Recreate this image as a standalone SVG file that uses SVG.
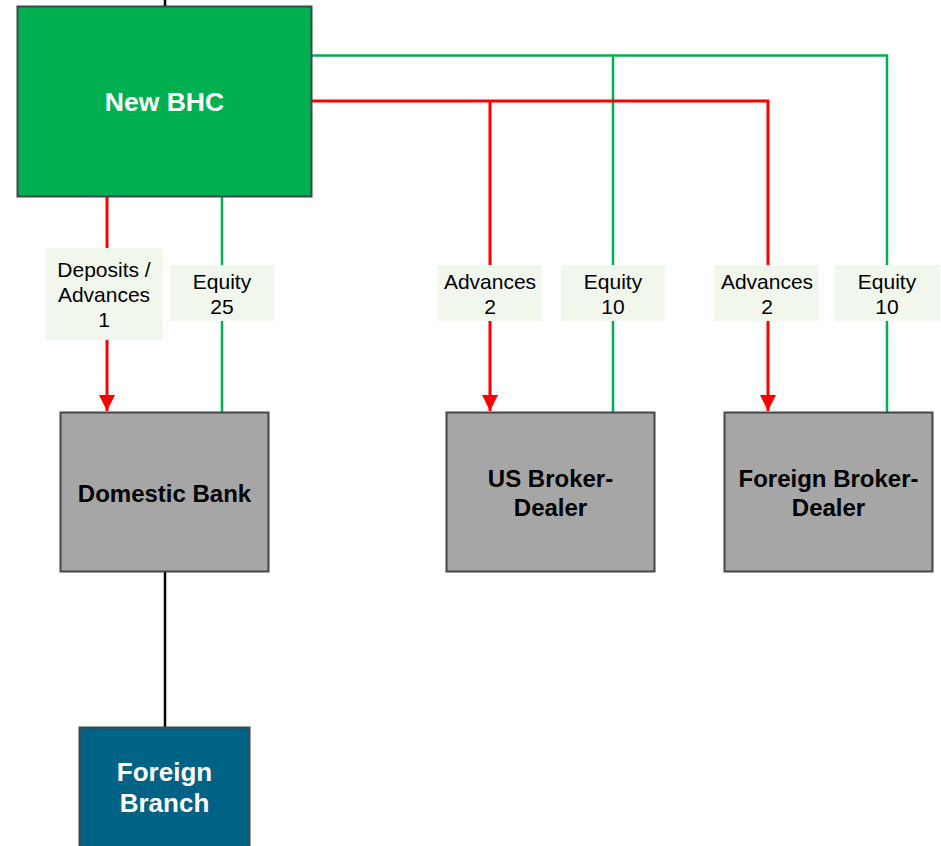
<svg xmlns="http://www.w3.org/2000/svg" width="941" height="846" viewBox="0 0 941 846">
<defs>
<style>
.box{stroke:#41464B;stroke-width:2}
.nt{font-family:"Liberation Sans",Arial,sans-serif;font-weight:bold;text-anchor:middle}
.lbl{fill:#F2F7EE}
.lt{font-family:"Liberation Sans",Arial,sans-serif;font-size:21px;fill:#000;text-anchor:middle}
.red{stroke:#FF0000;stroke-width:3;fill:none}
.grn{stroke:#00B050;stroke-width:2.5;fill:none}
.blk{stroke:#000;stroke-width:2.5;fill:none}
</style>
<marker id="ah" markerUnits="userSpaceOnUse" markerWidth="16" markerHeight="16" viewBox="0 0 16 16" refX="16" refY="8" orient="auto">
<path d="M0,0 L16,8 L0,16 Z" fill="#FF0000"/>
</marker>
</defs>
<rect width="941" height="846" fill="#FFFFFF"/>
<g id="connectors">
<line class="blk" x1="165" y1="0" x2="165" y2="7"/>
<line class="blk" x1="165" y1="572" x2="165" y2="727"/>
<polyline class="grn" points="312,55.5 887,55.5 887,412"/>
<line class="grn" x1="613" y1="55.5" x2="613" y2="412"/>
<line class="grn" x1="222" y1="197" x2="222" y2="412"/>
<polyline class="red" points="312,101 768,101 768,411" marker-end="url(#ah)"/>
<line class="red" x1="490" y1="101" x2="490" y2="411" marker-end="url(#ah)"/>
<line class="red" x1="107" y1="197" x2="107" y2="411" marker-end="url(#ah)"/>
</g>
<g id="labels">
<g id="lbl-deposits">
<rect class="lbl" x="45" y="248" width="118" height="92"/>
<text class="lt" x="104" y="277">Deposits /</text>
<text class="lt" x="104" y="302">Advances</text>
<text class="lt" x="104" y="327">1</text>
</g>
<g id="lbl-equity25">
<rect class="lbl" x="170" y="265" width="104" height="56"/>
<text class="lt" x="222" y="289">Equity</text>
<text class="lt" x="222" y="314">25</text>
</g>
<g id="lbl-adv-us">
<rect class="lbl" x="437" y="265" width="105" height="56"/>
<text class="lt" x="490" y="289">Advances</text>
<text class="lt" x="490" y="314">2</text>
</g>
<g id="lbl-eq-us">
<rect class="lbl" x="561" y="265" width="104" height="56"/>
<text class="lt" x="613" y="289">Equity</text>
<text class="lt" x="613" y="314">10</text>
</g>
<g id="lbl-adv-foreign">
<rect class="lbl" x="714" y="265" width="105" height="56"/>
<text class="lt" x="767" y="289">Advances</text>
<text class="lt" x="767" y="314">2</text>
</g>
<g id="lbl-eq-foreign">
<rect class="lbl" x="835" y="265" width="105" height="56"/>
<text class="lt" x="887" y="289">Equity</text>
<text class="lt" x="887" y="314">10</text>
</g>
</g>
<g id="new-bhc">
<rect class="box" x="17.5" y="6.5" width="294" height="190" fill="#00B050"/>
<text class="nt" x="164.5" y="111" font-size="26.5" fill="#FFFFFF">New BHC</text>
</g>
<g id="domestic-bank">
<rect class="box" x="60.5" y="412.5" width="208" height="159" fill="#A6A6A6"/>
<text class="nt" x="164.5" y="502" font-size="24" fill="#000">Domestic Bank</text>
</g>
<g id="us-broker-dealer">
<rect class="box" x="446.5" y="412.5" width="208" height="159" fill="#A6A6A6"/>
<text class="nt" x="550.5" y="487" font-size="24" fill="#000">US Broker-</text>
<text class="nt" x="550.5" y="516" font-size="24" fill="#000">Dealer</text>
</g>
<g id="foreign-broker-dealer">
<rect class="box" x="724.5" y="412.5" width="208" height="159" fill="#A6A6A6"/>
<text class="nt" x="828.5" y="487" font-size="24" fill="#000">Foreign Broker-</text>
<text class="nt" x="828.5" y="516" font-size="24" fill="#000">Dealer</text>
</g>
<g id="foreign-branch">
<rect class="box" x="79.5" y="727.5" width="170" height="125" fill="#006385"/>
<text class="nt" x="164.5" y="781" font-size="26" fill="#FFFFFF">Foreign</text>
<text class="nt" x="164.5" y="812" font-size="26" fill="#FFFFFF">Branch</text>
</g>
</svg>
